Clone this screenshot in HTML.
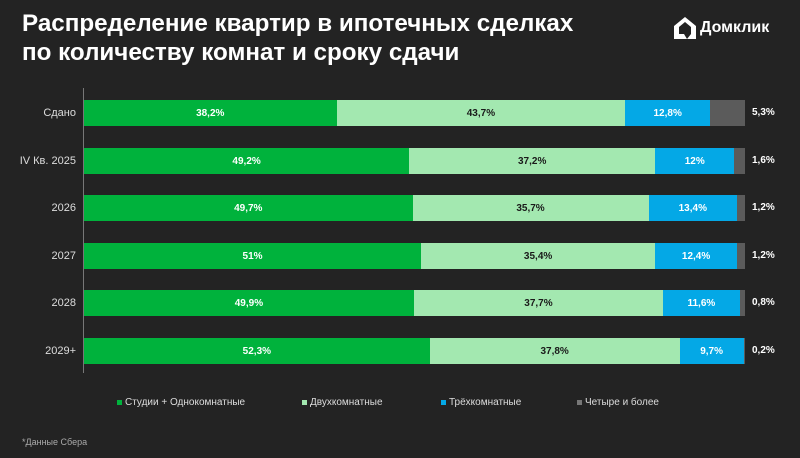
<!DOCTYPE html><html><head><meta charset="utf-8"><style>
body{margin:0;width:800px;height:458px;background:#232323;font-family:"Liberation Sans",sans-serif;color:#fff;position:relative;overflow:hidden}
.t{position:absolute;left:22px;top:9px;font-size:24.2px;font-weight:bold;line-height:29px}
.axis{position:absolute;left:83px;top:88px;width:1px;height:285px;background:#777}
.row{position:absolute;left:84px;width:661px;height:26px;display:flex}
.row div{height:100%;display:flex;align-items:center;justify-content:center;font-size:10px;font-weight:bold;overflow:hidden}
.a{background:#00b23c;color:#fff}.b{background:#a3e8b0;color:#1a1a1a}.c{background:#04a8e6;color:#fff}.d{background:#5b5b5b}
.lab{position:absolute;right:724px;font-size:11px;color:#ddd;text-align:right;white-space:nowrap}
.end{position:absolute;left:752px;font-size:10px;font-weight:bold}
.lg{position:absolute;top:397px;font-size:10px;color:#ddd}
.lg i{display:inline-block;width:5px;height:5px;margin-right:3px}
</style></head><body>
<div class="t">Распределение квартир в ипотечных сделках<br>по количеству комнат и сроку сдачи</div>
<svg style="position:absolute;left:672px;top:15px" width="26" height="26" viewBox="0 0 26 26"><path d="M13 2 L24 11 V24 H15 L19 19 V12 L13 7 L7 12 V19 H12 L15 24 H2 V11 Z" fill="#fff"/></svg>
<div style="position:absolute;left:700px;top:19px;font-size:16px;font-weight:bold">Домклик</div>
<div class="axis"></div>
<div class="lab" style="top:107px">Сдано</div>
<div class="lab" style="top:155px">IV Кв. 2025</div>
<div class="lab" style="top:202px">2026</div>
<div class="lab" style="top:250px">2027</div>
<div class="lab" style="top:297px">2028</div>
<div class="lab" style="top:345px">2029+</div>
<div class="row" style="top:100px"><div class="a" style="flex:38.2">38,2%</div><div class="b" style="flex:43.7">43,7%</div><div class="c" style="flex:12.8">12,8%</div><div class="d" style="flex:5.3"></div></div>
<div class="row" style="top:148px"><div class="a" style="flex:49.2">49,2%</div><div class="b" style="flex:37.2">37,2%</div><div class="c" style="flex:12">12%</div><div class="d" style="flex:1.6"></div></div>
<div class="row" style="top:195px"><div class="a" style="flex:49.7">49,7%</div><div class="b" style="flex:35.7">35,7%</div><div class="c" style="flex:13.4">13,4%</div><div class="d" style="flex:1.2"></div></div>
<div class="row" style="top:243px"><div class="a" style="flex:51">51%</div><div class="b" style="flex:35.4">35,4%</div><div class="c" style="flex:12.4">12,4%</div><div class="d" style="flex:1.2"></div></div>
<div class="row" style="top:290px"><div class="a" style="flex:49.9">49,9%</div><div class="b" style="flex:37.7">37,7%</div><div class="c" style="flex:11.6">11,6%</div><div class="d" style="flex:0.8"></div></div>
<div class="row" style="top:338px"><div class="a" style="flex:52.3">52,3%</div><div class="b" style="flex:37.8">37,8%</div><div class="c" style="flex:9.7">9,7%</div><div class="d" style="flex:0.2"></div></div>
<div class="end" style="top:107px">5,3%</div>
<div class="end" style="top:155px">1,6%</div>
<div class="end" style="top:202px">1,2%</div>
<div class="end" style="top:250px">1,2%</div>
<div class="end" style="top:297px">0,8%</div>
<div class="end" style="top:345px">0,2%</div>
<div class="lg" style="left:117px"><i style="background:#00b23c"></i>Студии + Однокомнатные</div>
<div class="lg" style="left:302px"><i style="background:#a3e8b0"></i>Двухкомнатные</div>
<div class="lg" style="left:441px"><i style="background:#04a8e6"></i>Трёхкомнатные</div>
<div class="lg" style="left:577px"><i style="background:#777"></i>Четыре и более</div>
<div style="position:absolute;left:22px;top:437px;font-size:9px;color:#aaa">*Данные Сбера</div>
</body></html>
